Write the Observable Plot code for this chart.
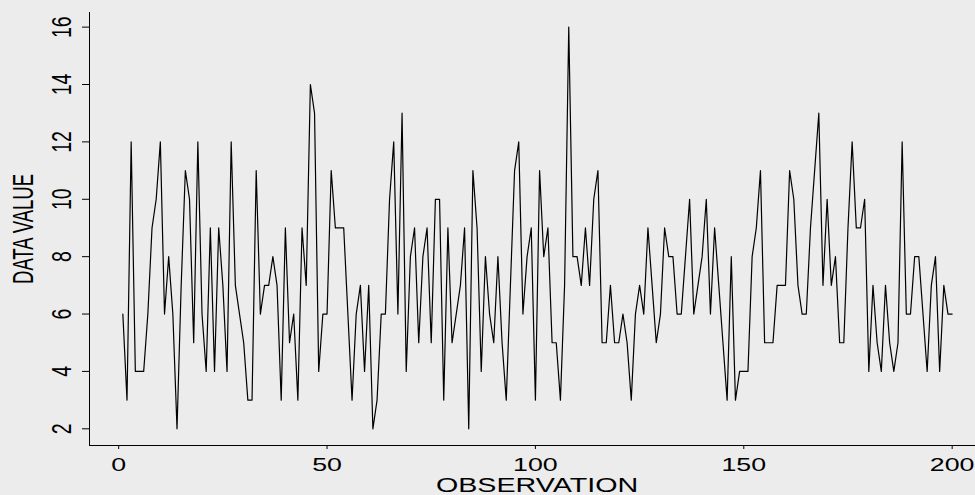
<!DOCTYPE html>
<html>
<head>
<meta charset="utf-8">
<script src="https://cdn.jsdelivr.net/npm/d3@7"></script>
<script src="https://cdn.jsdelivr.net/npm/@observablehq/plot@0.6"></script>
<style>
  html, body { margin: 0; padding: 0; background: #ececec; }
</style>
</head>
<body>
<div id="chart"></div>
<script>
const values = [
  6, 3, 12, 4, 4, 4, 6, 9, 10, 12, 6, 8, 6, 2, 7, 11, 10, 5, 12, 6,
  4, 9, 4, 9, 7, 4, 12, 7, 6, 5, 3, 3, 11, 6, 7, 7, 8, 7, 3, 9,
  5, 6, 3, 9, 7, 14, 13, 4, 6, 6, 11, 9, 9, 9, 6, 3, 6, 7, 4, 7,
  2, 3, 6, 6, 10, 12, 6, 13, 4, 8, 9, 5, 8, 9, 5, 10, 10, 3, 9, 5,
  6, 7, 9, 2, 11, 9, 4, 8, 6, 5, 8, 5, 3, 7, 11, 12, 6, 8, 9, 3,
  11, 8, 9, 5, 5, 3, 7, 16, 8, 8, 7, 9, 7, 10, 11, 5, 5, 7, 5, 5,
  6, 5, 3, 6, 7, 6, 9, 7, 5, 6, 9, 8, 8, 6, 6, 8, 10, 6, 7, 8,
  10, 6, 9, 7, 5, 3, 8, 3, 4, 4, 4, 8, 9, 11, 5, 5, 5, 7, 7, 7,
  11, 10, 7, 6, 6, 9, 11, 13, 7, 10, 7, 8, 5, 5, 9, 12, 9, 9, 10, 4,
  7, 5, 4, 7, 5, 4, 5, 12, 6, 6, 8, 8, 6, 4, 7, 8, 4, 7, 6, 6
];
const observations = values.map((_, i) => i + 1);
const xTicks = [0, 50, 100, 150, 200];
const yTicks = [2, 4, 6, 8, 10, 12, 14, 16];
const xLabel = "OBSERVATION";
const yLabel = "DATA VALUE";

const data = observations.map((o, i) => ({obs: o, value: values[i]}));

const font = "'Liberation Sans', Arial, Helvetica, sans-serif";

const chart = Plot.plot({
  width: 975,
  height: 495,
  marginLeft: 89,
  marginRight: 0,
  marginTop: 12,
  marginBottom: 50,
  style: {background: "#ececec", color: "#000", fontFamily: font, fontSize: "19px", overflow: "visible"},
  x: {domain: [-7.0, 205.6]},
  y: {domain: [1.418, 16.51]},
  marks: [
    Plot.frame({anchor: "left", stroke: "#000", strokeWidth: 1}),
    Plot.frame({anchor: "bottom", stroke: "#000", strokeWidth: 1}),
    Plot.axisX({ticks: xTicks, tickSize: 4, tickPadding: 8, label: null, fontSize: 18.6, stroke: "#000"}),
    Plot.axisY({ticks: yTicks, tickSize: 7, tickRotate: -90, tickPadding: 12, label: null, fontSize: 19.5, stroke: "#000"}),
    Plot.text([xLabel], {x: [100.4], text: d => d, frameAnchor: "bottom", textAnchor: "middle", dy: 39.5, lineAnchor: "middle", fontSize: 20.5, fill: "#000"}),
    Plot.text([yLabel], {text: d => d, frameAnchor: "left", textAnchor: "middle", dx: -66, rotate: -90, lineAnchor: "middle", fontSize: 18.5, fill: "#000"}),
    Plot.line(data, {x: "obs", y: "value", stroke: "#000", strokeWidth: 1.2})
  ]
});

document.getElementById("chart").appendChild(chart);

// Horizontal stretch of the lettering, as in the reference
const svg = chart.tagName.toLowerCase() === "svg" ? chart : chart.querySelector("svg");
d3.select(svg).selectAll("text").each(function () {
  const t = d3.select(this);
  let tr = t.attr("transform") || "";
  const xa = t.attr("x"), ya = t.attr("y");
  if (!tr && xa != null && !/em$/.test(xa)) {
    tr = `translate(${xa},${(ya != null && !/em$/.test(ya)) ? ya : 0})`;
    t.attr("x", null);
    if (ya != null && !/em$/.test(ya)) t.attr("y", null);
  }
  const label = (this.parentNode && this.parentNode.getAttribute("aria-label")) || "";
  const rotated = /rotate\(\s*-90/.test(tr);
  let s;
  if (rotated) {
    s = /tick label/.test(label) ? " scale(1,1.4)" : " scale(1,1.56)";
  } else {
    s = /tick label/.test(label) ? " scale(1.44,1)" : " scale(1.40,1)";
  }
  t.attr("transform", tr + s);
});
</script>
</body>
</html>
